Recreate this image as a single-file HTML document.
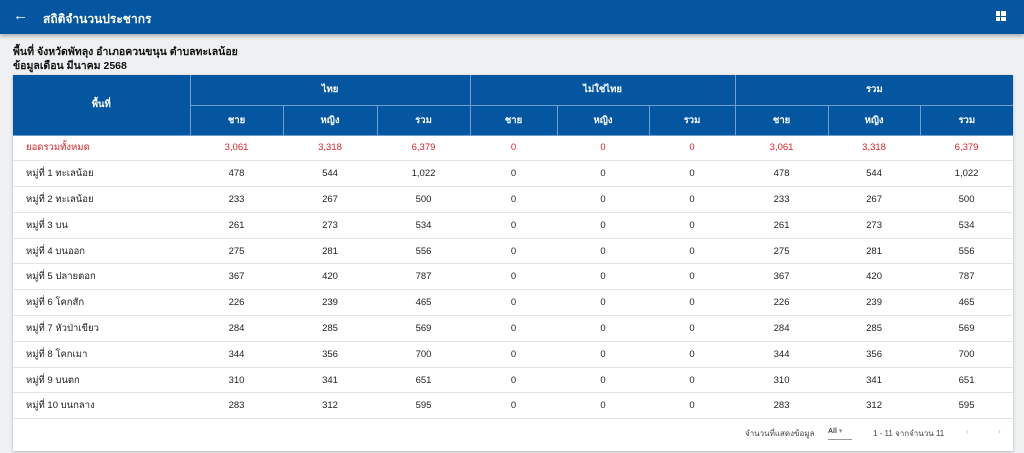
<!DOCTYPE html>
<html><head><meta charset="utf-8"><style>
*{box-sizing:border-box;margin:0;padding:0}
body{width:1024px;height:453px;overflow:hidden;background:#eef0f2;font-family:"Liberation Sans","Noto Sans CJK SC",sans-serif;position:relative}
.bar{position:absolute;left:0;top:0;width:1024px;height:34px;background:#0456a0;box-shadow:0 2px 4px rgba(0,0,0,.3);color:#fff}
.bar .t{position:absolute;left:43px;top:10px;font-size:12px;font-weight:bold}
.bar .a{position:absolute;left:13px;top:7px;font-size:15px}
.ic{position:absolute;left:996px;top:11px;width:10px;height:10px;display:grid;grid-template-columns:4px 5px;grid-template-rows:5px 4px;gap:1px}
.ic i{background:#fff}
.hd{position:absolute;left:13px;top:45px;font-size:10.5px;font-weight:bold;color:#111;line-height:14px}
.card{position:absolute;left:13px;top:75px;width:1000px;height:376px;background:#fff;box-shadow:0 1px 3px rgba(0,0,0,.25)}
table{border-collapse:collapse;table-layout:fixed;width:1000px;font-size:9.5px;color:#222}
th{background:#0456a0;color:#fff;font-weight:bold;font-size:9.5px;border-left:1px solid #6f9fcc;border-bottom:1px solid #6f9fcc;height:30px}
th.f{border-left:none}
td{height:25.8px;text-align:center;border-bottom:1px solid #e4e4e4}
td:first-child{text-align:left;padding-left:13px}
tr.r td{color:#d9222a}
.ft{position:absolute;top:352px;font-size:8px;color:#444}
</style></head><body>
<div class="bar"><span class="a">←</span><span class="t">สถิติจำนวนประชากร</span><div class="ic"><i></i><i></i><i></i><i></i></div></div>
<div class="hd">พื้นที่ จังหวัดพัทลุง อำเภอควนขนุน ตำบลทะเลน้อย<br>ข้อมูลเดือน มีนาคม 2568</div>
<div class="card">
<table>
<colgroup><col style="width:177px"><col style="width:93px"><col style="width:94px"><col style="width:93px"><col style="width:87px"><col style="width:92px"><col style="width:86px"><col style="width:93px"><col style="width:92px"><col style="width:93px"></colgroup>
<tr><th rowspan="2" class="f">พื้นที่</th><th colspan="3">ไทย</th><th colspan="3">ไม่ใช่ไทย</th><th colspan="3">รวม</th></tr>
<tr><th>ชาย</th><th>หญิง</th><th>รวม</th><th>ชาย</th><th>หญิง</th><th>รวม</th><th>ชาย</th><th>หญิง</th><th>รวม</th></tr>
<tr class="r"><td>ยอดรวมทั้งหมด</td><td>3,061</td><td>3,318</td><td>6,379</td><td>0</td><td>0</td><td>0</td><td>3,061</td><td>3,318</td><td>6,379</td></tr>
<tr><td>หมู่ที่ 1 ทะเลน้อย</td><td>478</td><td>544</td><td>1,022</td><td>0</td><td>0</td><td>0</td><td>478</td><td>544</td><td>1,022</td></tr>
<tr><td>หมู่ที่ 2 ทะเลน้อย</td><td>233</td><td>267</td><td>500</td><td>0</td><td>0</td><td>0</td><td>233</td><td>267</td><td>500</td></tr>
<tr><td>หมู่ที่ 3 บน</td><td>261</td><td>273</td><td>534</td><td>0</td><td>0</td><td>0</td><td>261</td><td>273</td><td>534</td></tr>
<tr><td>หมู่ที่ 4 บนออก</td><td>275</td><td>281</td><td>556</td><td>0</td><td>0</td><td>0</td><td>275</td><td>281</td><td>556</td></tr>
<tr><td>หมู่ที่ 5 ปลายตอก</td><td>367</td><td>420</td><td>787</td><td>0</td><td>0</td><td>0</td><td>367</td><td>420</td><td>787</td></tr>
<tr><td>หมู่ที่ 6 โคกสัก</td><td>226</td><td>239</td><td>465</td><td>0</td><td>0</td><td>0</td><td>226</td><td>239</td><td>465</td></tr>
<tr><td>หมู่ที่ 7 หัวป่าเขียว</td><td>284</td><td>285</td><td>569</td><td>0</td><td>0</td><td>0</td><td>284</td><td>285</td><td>569</td></tr>
<tr><td>หมู่ที่ 8 โคกเมา</td><td>344</td><td>356</td><td>700</td><td>0</td><td>0</td><td>0</td><td>344</td><td>356</td><td>700</td></tr>
<tr><td>หมู่ที่ 9 บนตก</td><td>310</td><td>341</td><td>651</td><td>0</td><td>0</td><td>0</td><td>310</td><td>341</td><td>651</td></tr>
<tr><td>หมู่ที่ 10 บนกลาง</td><td>283</td><td>312</td><td>595</td><td>0</td><td>0</td><td>0</td><td>283</td><td>312</td><td>595</td></tr>
</table>
<span class="ft" style="left:732px">จำนวนที่แสดงข้อมูล</span>
<span class="ft" style="left:815px;font-size:7px;font-weight:bold;border-bottom:1px solid #999;padding-bottom:4px;width:24px">All <span style="color:#888;font-weight:normal">▾</span></span>
<span class="ft" style="left:860px">1 - 11 จากจำนวน 11</span>
<span class="ft" style="left:953px;color:#bbb">‹</span>
<span class="ft" style="left:985px;color:#bbb">›</span>
</div>
</body></html>
